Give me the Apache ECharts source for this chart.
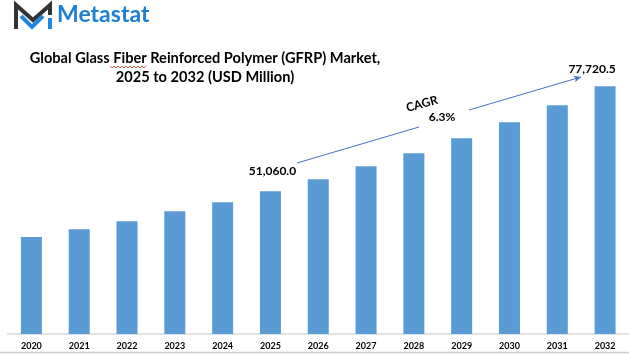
<!DOCTYPE html>
<html>
<head>
<meta charset="utf-8">
<script src="https://cdn.jsdelivr.net/npm/echarts@6/dist/echarts.min.js"></script>
<style>
  html, body { margin: 0; padding: 0; background: #fff; }
  #chart-container { width: 629px; height: 354px; }
</style>
</head>
<body>
<div id="chart-container"></div>
<script>
const years = ["2020", "2021", "2022", "2023", "2024", "2025", "2026", "2027", "2028", "2029", "2030", "2031", "2032"];
const marketValue = [39380, 41410, 43440, 45980, 48270, 51060, 54100, 57410, 60710, 64510, 68580, 72890, 77720.5];
const labelYears = ["2025", "2032"];
const titleLines = ["Global Glass Fiber Reinforced Polymer (GFRP) Market,", "2025 to 2032 (USD Million)"];
const cagrText = "CAGR";
const cagrValue = "6.3%";

const dom = document.getElementById("chart-container");
const myChart = echarts.init(dom, null, { renderer: "canvas" });

const fmt = (v) => v.toLocaleString("en-US", { minimumFractionDigits: 1, maximumFractionDigits: 1 });

const barData = marketValue.map((v, i) => {
  if (labelYears.indexOf(years[i]) < 0) return v;
  const last = i === years.length - 1;
  return {
    value: v,
    label: {
      show: true,
      position: "top",
      offset: last ? [-13, -6] : [2, -9],
      formatter: (d) => fmt(d.value),
      color: "#000",
      fontFamily: "Lato",
      fontWeight: "bold",
      fontSize: 12,
    },
  };
});

const option = {
  animation: false,
  backgroundColor: "#fff",
  grid: { left: 7.5, width: 624, top: 38, bottom: 20, containLabel: false },
  xAxis: {
    type: "category",
    data: years,
    axisLine: { lineStyle: { color: "#d9d9d9", width: 1.5 } },
    axisTick: { show: false },
    axisLabel: {
      color: "#000",
      fontFamily: "Lato",
      fontWeight: "bold",
      fontSize: 9,
      margin: 8,
      interval: 0,
    },
  },
  yAxis: {
    type: "value",
    min: 14750,
    max: 90000,
    show: false,
    splitLine: { show: false },
  },
  series: [
    {
      type: "bar",
      data: barData,
      barWidth: 21,
      itemStyle: { color: "#5b9bd5" },
      markLine: {
        silent: true,
        label: { show: false },
        lineStyle: { color: "#4472c4", width: 1, type: "solid" },
        data: [
          [
            { x: 297, y: 163, symbol: "none" },
            { x: 419, y: 127, symbol: "none" },
          ],
          [
            { x: 469, y: 110, symbol: "none" },
            { x: 581, y: 77, symbol: "arrow", symbolSize: [5, 7] },
          ],
        ],
      },
    },
  ],
  graphic: [
    // logo
    {
      type: "polyline",
      shape: { points: [[16, 29], [16, 5], [33, 20], [50, 5], [50, 15]] },
      style: { stroke: "#333", lineWidth: 4, fill: null, lineJoin: "miter" },
    },
    {
      type: "polyline",
      shape: { points: [[21, 16], [32, 27], [43, 16]] },
      style: { stroke: "#1e88e5", lineWidth: 4, fill: null },
    },
    {
      type: "line",
      shape: { x1: 50, y1: 18, x2: 50, y2: 29 },
      style: { stroke: "#1e88e5", lineWidth: 4 },
    },
    {
      type: "text",
      left: 57,
      top: 3,
      style: { text: "Metastat", fill: "#1c7ed6", font: "bold 23px Lato" },
    },
    // title
    {
      type: "text",
      x: 205,
      y: 58,
      style: {
        text: titleLines[0],
        fill: "#000",
        font: "bold 14.6px Lato",
        textAlign: "center",
        textVerticalAlign: "middle",
      },
    },
    {
      type: "text",
      x: 205,
      y: 77,
      style: {
        text: titleLines[1],
        fill: "#000",
        font: "bold 14.6px Lato",
        textAlign: "center",
        textVerticalAlign: "middle",
      },
    },
    {
      type: "polyline",
      shape: { points: [[110, 66], [112, 68], [114, 66], [116, 68], [118, 66], [120, 68], [122, 66], [124, 68], [126, 66], [128, 68], [130, 66], [132, 68], [134, 66], [136, 68], [138, 66], [140, 68], [142, 66], [144, 68], [146, 66]] },
      style: { stroke: "#e03030", lineWidth: 0.8, fill: null },
    },
    // CAGR annotation
    {
      type: "text",
      x: 422,
      y: 104,
      rotation: 0.27,
      style: { text: cagrText, fill: "#000", font: "bold 12px Lato", textAlign: "center", textVerticalAlign: "middle" },
    },
    {
      type: "text",
      x: 442,
      y: 117,
      style: { text: cagrValue, fill: "#000", font: "bold 12px Lato", textAlign: "center", textVerticalAlign: "middle" },
    },
    // bottom border
    {
      type: "line",
      shape: { x1: 0, y1: 352.5, x2: 629, y2: 352.5 },
      style: { stroke: "#c8c8c8", lineWidth: 1.5 },
    },
  ],
};

if (option && typeof option === "object") {
  myChart.setOption(option);
}

window.addEventListener("resize", () => myChart.resize());
</script>
</body>
</html>
